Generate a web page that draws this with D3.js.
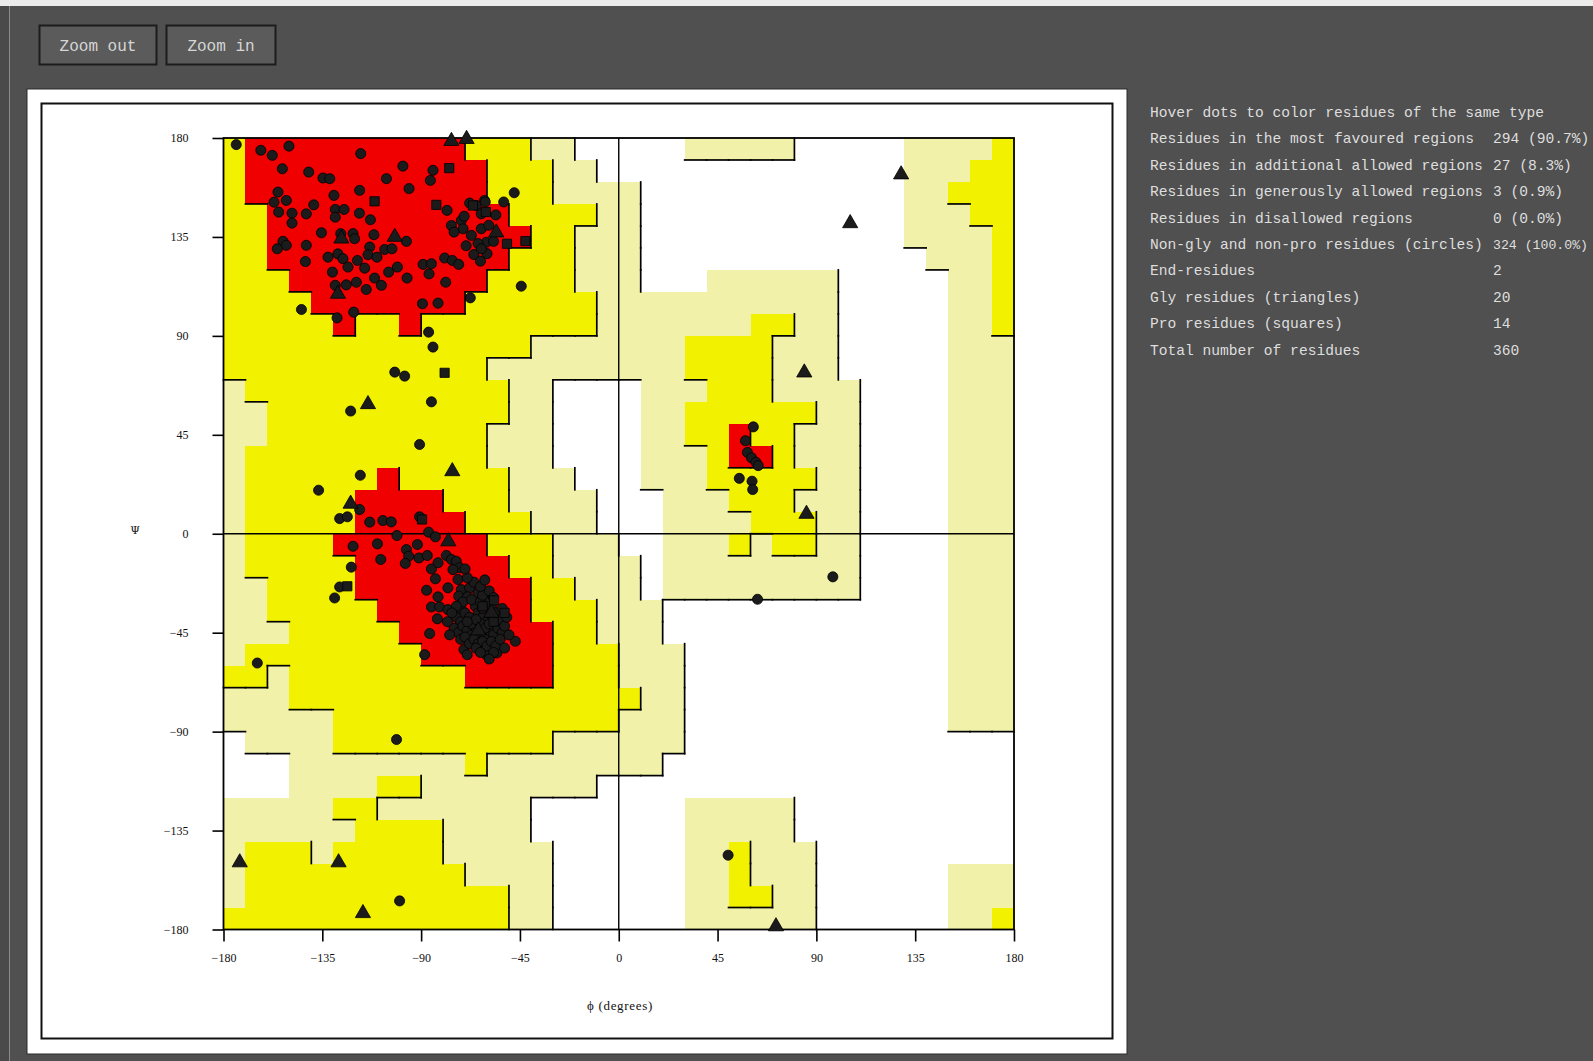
<!DOCTYPE html>
<html>
<head>
<meta charset="utf-8">
<script src="https://cdn.jsdelivr.net/npm/d3@7"></script>
<style>
  html, body { margin: 0; padding: 0; background: #505050; overflow: hidden; }
  svg { display: block; }
</style>
</head>
<body>
<svg id="page" width="1593" height="1061"></svg>
<script>
// Ramachandran region map on a 10-degree grid. One run-length string per phi column
// (phi -180 .. 170), read from psi = 180 downwards. Levels: 0 disallowed,
// 1 generously allowed, 2 additionally allowed, 3 most favoured.
const regionColumns = [
  "2x11 1x13 2x1 1x2 0x3 1x5 2x1",
  "3x3 2x9 1x2 2x6 1x3 2x2 1x3 0x2 1x2 2x4",
  "3x6 2x16 1x1 2x1 1x4 0x2 1x2 2x4",
  "3x7 2x19 1x6 2x4",
  "3x8 2x18 1x7 2x3",
  "3x9 2x9 3x1 2x9 1x2 2x1 1x1 2x4",
  "3x8 2x8 3x5 2x7 1x2 2x6",
  "3x8 2x7 3x7 2x6 1x1 2x1 1x1 2x5",
  "3x9 2x7 3x7 2x5 1x1 2x1 1x1 2x5",
  "3x8 2x8 3x8 2x4 1x3 2x5",
  "3x8 2x9 3x7 2x4 1x5 2x3",
  "2x1 3x6 2x11 3x7 2x4 1x5 2x2",
  "2x3 3x3 2x4 1x1 2x2 1x2 2x4 3x6 2x3 1x6 2x2",
  "2x4 3x1 2x5 1x7 2x3 3x5 2x3 1x8",
  "1x1 2x8 1x9 2x4 3x3 2x3 1x2 0x2 1x4",
  "1x3 2x6 1x2 0x4 1x5 2x7 1x3 0x6",
  "0x1 1x2 2x1 1x3 2x2 1x2 0x5 1x5 2x6 1x3 0x6",
  "0x2 1x9 0x7 1x5 2x4 1x2 0x7",
  "0x2 1x9 0x8 1x6 2x1 1x3 0x7",
  "0x7 1x9 0x5 1x8 0x7",
  "0x7 1x14 0x2 1x5 0x8",
  "1x1 0x6 1x2 2x2 1x1 2x2 1x7 0x9 1x6",
  "1x1 0x5 1x3 2x7 1x5 0x9 1x6",
  "1x1 0x5 1x3 2x4 3x2 2x2 1x1 2x1 1x2 0x9 1x2 2x3 1x1",
  "1x1 0x5 1x2 2x6 3x1 2x3 1x3 0x9 1x4 2x1 1x1",
  "1x1 0x5 1x2 2x1 1x3 2x7 1x2 0x9 1x6",
  "0x6 1x6 2x1 1x2 2x1 1x1 2x2 1x2 0x11 1x4",
  "0x6 1x15 0x15",
  "0x11 1x10 0x15",
  "0x36",
  "0x36",
  "1x5 0x31",
  "1x6 0x30",
  "1x2 2x1 1x24 0x6 1x3",
  "1x1 2x3 1x23 0x6 1x3",
  "2x9 1x18 0x6 1x2 2x1"
];
const regionColors = ["#ffffff", "#f1f1a9", "#f2f200", "#f00000"];

const phiTicks = [-180, -135, -90, -45, 0, 45, 90, 135, 180];
const psiTicks = [-180, -135, -90, -45, 0, 45, 90, 135, 180];

// Residues: [phi, psi]
const generalResidues = [
  [-174.2,177],[-163,174.4],[-157.8,172.1],[-150.2,176.3],[-153.2,166],[-141.2,164.5],[-134.7,161.8],[-131.6,161.5],
  [-117.5,172.9],[-105.8,161.5],[-98.3,167.2],[-95.5,157],[-84.6,165.3],[-85.8,160.7],[-129.7,153.9],[-118,156.2],
  [-155.2,155.4],[-157,150.8],[-151.4,151.6],[-154.9,146.3],[-148.8,145.8],[-142.3,145.5],[-148.8,141.3],[-138.9,149.6],
  [-129.1,147.5],[-125.1,147.5],[-129.1,144],[-118.1,145.8],[-113.1,142.8],[-78.2,147.1],[-67.9,150.4],[-61.1,151.6],
  [-76.2,140.2],[-71.7,142.5],[-70.9,138.7],[-75,137.2],[-67.1,135.7],[-62.6,138.7],[-60.3,132.6],[-135.4,136.9],
  [-126.6,136.5],[-121,136.5],[-120.3,134.2],[-111.5,136],[-96.7,133],[-152.9,133],[-151.4,131.2],[-155.5,129.6],
  [-142.3,131.2],[-132.4,125.8],[-127.9,127.3],[-125.6,125.1],[-123.3,121.3],[-119,124.3],[-115.7,120.8],[-113.4,130.4],
  [-114.2,126.9],[-110.1,125.8],[-106.6,129.3],[-103.3,129.6],[-100.8,121.3],[-104.8,119],[-111.2,116.3],[-108.1,113],
  [-96.4,116.3],[-130.4,119],[-129.1,113],[-124.1,113.2],[-119.5,114.4],[-115,111.1],[-142.7,123.8],[-89.1,122.5],
  [-85.3,122.8],[-79.3,125.4],[-75.8,124.3],[-72.9,122.5],[-86.4,118.2],[-78.8,114.4],[-89.4,104.6],[-82.3,104.9],
  [-67.6,107.3],[-144.5,102],[-128.3,98.2],[-120.7,100.8],[-86.6,91.7],[-84.6,84.9],[-102,73.5],[-97.5,71.7],[-85.3,60],
  [-47.6,155.1],[-52.4,150.9],[-60.8,150.9],[-59.2,140.3],[-60,127.4],[-44.4,112.6],[-64.9,149.3],[-70.4,144.4],
  [-62.6,145.5],[-64.1,132],[-69.5,131],[-62.6,129.6],[-66,127],[-56,145],[-57,133],[-63,124],
  [-122.1,55.8],[-90.7,40.6],[-117.7,26.6],[-136.7,19.8],[-118,11],[-127.1,6.9],[-123.6,7.7],[-113.4,5.3],
  [-107.4,6],[-103.6,5.4],[-90.7,7.7],[-101,-0.8],[-86.6,0.7],[-83.5,-1.4],[-121,-5.7],[-109.9,-4.6],[-108.4,-11.7],
  [-96.7,-7.2],[-91.7,-4.9],[-95.7,-10.2],[-91,-11],[-87.2,-9.9],[-97.2,-13.5],[-121.8,-15.2],[-85.3,-16],[-82.3,-13.2],
  [-78.5,-9.9],[-76.2,-11.7],[-74,-12.5],[-72.4,-15.5],[-75.5,-16.3],[-73.2,-20.8],[-83.5,-20.5],[-127.1,-24.2],
  [-129.4,-29.2],[-87.5,-25.7],[-77.8,-24.6],[-71.7,-25.4],[-67.9,-24.6],[-64.1,-26.9],[-82.3,-28.7],[-85.3,-33.3],
  [-81.6,-33.3],[-77.8,-34.5],[-72.9,-28.4],[-68.9,-28.7],[-71.7,-34.5],[-65.3,-33],[-82.6,-38.7],[-86.1,-45.4],
  [-70.5,-52.7],[-88.4,-55],[-60.3,-55],[-164.6,-58.8],[-60.8,-29.9],[-47.1,-48.9],[-59.2,-54.2],[-55.5,-54.2],
  [-74,-38],[-72,-40],[-70,-36],[-68,-38],[-66,-40],[-64,-36],[-62,-38],[-60,-40],[-58,-37],[-56,-41],
  [-75,-43],[-73,-45],[-71,-42],[-69,-44],[-67,-46],[-65,-43],[-63,-45],[-61,-47],[-59,-44],[-57,-46],
  [-55,-43],[-53,-45],[-72,-48],[-70,-47],[-68,-50],[-66,-48],[-64,-50],[-62,-49],[-60,-51],[-58,-49],
  [-56,-51],[-54,-48],[-67,-41],[-63,-41],[-61,-43],[-59,-41],[-65,-39],[-69,-40],[-62,-34],[-58,-33],
  [-60,-31],[-56,-36],[-54,-39],[-52,-42],[-50,-46],[-65,-52],[-63,-54],[-57,-54],[-59,-57],
  [-69,-55],[-71,-31],[-67,-30],[-63,-31],[-74,-33],[-76,-36],[-78,-40],[-77,-46],[-62,-28],[-59,-26],
  [-66,-22],[-63,-24],[-69,-20],[-70,-16],[-61,-21],[-57,-29],[-53,-34],[-51,-38],[-52,-52],
  [-101.2,-93.6],[-99.8,-167],[49.8,-146.2],[63.2,-29.8],[97.5,-19.6],[61.3,48.6],[57.7,42.3],[58.6,37],
  [60.5,34.5],[62.5,32.5],[63.5,31],[54.9,25.2],[60.7,23.9],[61,20.1]
];
const glyResidues = [
  [-76.2,178.6],[-69.3,179.5],[-126.3,134.2],[-102,135],[-55.8,137],[-127.9,109.1],[-114.2,58.9],[-75.8,28.4],
  [-122.1,13.6],[-77.6,-3.5],[128.6,163.4],[105.4,141.2],[84.5,73.3],[85.5,9.0],[-172.6,-149.5],[-127.6,-149.5],
  [-116.5,-172.6],[71.6,-178.6],[-64,-44],[-58,-36]
];
const proResidues = [
  [-77.2,166.3],[-111.2,151.2],[-83.1,149.6],[-79.3,73.2],[-50.9,131.9],[-42.5,133.1],[-89.6,6.5],[-123.6,-23.9],
  [-56.8,-30.3],[-66.4,149.3],[-60.5,146.3],[-62,-33],[-57,-40],[-52,-36]
];

const statLabels = [
  "Hover dots to color residues of the same type",
  "Residues in the most favoured regions",
  "Residues in additional allowed regions",
  "Residues in generously allowed regions",
  "Residues in disallowed regions",
  "Non-gly and non-pro residues (circles)",
  "End-residues",
  "Gly residues (triangles)",
  "Pro residues (squares)",
  "Total number of residues"
];
const statValues = ["", "294 (90.7%)", "27 (8.3%)", "3 (0.9%)", "0 (0.0%)", "324 (100.0%)", "2", "20", "14", "360"];
const buttonLabels = ["Zoom out", "Zoom in"];

// ---------------------------------------------------------------------------
function decodeRuns(s) {
  const out = [];
  s.split(" ").forEach(tok => {
    const [lv, n] = tok.split("x").map(Number);
    for (let k = 0; k < n; k++) out.push(lv);
  });
  return out;
}
const grid = regionColumns.map(decodeRuns); // grid[i][j]

const svg = d3.select("#page");

// page chrome
svg.append("rect").attr("x", 0).attr("y", 0).attr("width", 1593).attr("height", 1061).attr("fill", "#505050");
svg.append("rect").attr("x", 0).attr("y", 0).attr("width", 1593).attr("height", 6).attr("fill", "#ececec");
svg.append("rect").attr("x", 0).attr("y", 6).attr("width", 9).attr("height", 1055).attr("fill", "#4a4a4a");
svg.append("line").attr("x1", 9.5).attr("x2", 9.5).attr("y1", 6).attr("y2", 1061).attr("stroke", "#8a8a8a").attr("stroke-width", 1);

// buttons
const btnX = [39.5, 166.5], btnW = [117, 109];
buttonLabels.forEach((t, k) => {
  svg.append("rect").attr("x", btnX[k]).attr("y", 25.5).attr("width", btnW[k]).attr("height", 39)
    .attr("fill", "#5b5b5b").attr("stroke", "#1c1c1c").attr("stroke-width", 2);
  svg.append("text").attr("x", btnX[k] + btnW[k] / 2).attr("y", 51).attr("text-anchor", "middle")
    .attr("font-family", "Liberation Mono, monospace").attr("font-size", 16).attr("fill", "#d6d6d6").text(t);
});

// white plot panel
svg.append("rect").attr("x", 27).attr("y", 89).attr("width", 1100).attr("height", 965)
  .attr("fill", "#ffffff").attr("stroke", "#2a2a2a").attr("stroke-width", 1);
svg.append("rect").attr("x", 41.5).attr("y", 103.5).attr("width", 1071).attr("height", 935)
  .attr("fill", "none").attr("stroke", "#111").attr("stroke-width", 2);

// scales
const x = d3.scaleLinear().domain([-180, 180]).range([223.5, 1014]);
const y = d3.scaleLinear().domain([180, -180]).range([138, 929.5]);

const plot = svg.append("g");

// region cells
const cells = [];
grid.forEach((col, i) => col.forEach((lv, j) => cells.push({ i, j, lv })));
plot.append("g").selectAll("rect").data(cells).join("rect")
  .attr("x", d => x(-180 + 10 * d.i))
  .attr("y", d => y(180 - 10 * d.j))
  .attr("width", d => x(-170 + 10 * d.i) - x(-180 + 10 * d.i) + 0.5)
  .attr("height", d => y(170 - 10 * d.j) - y(180 - 10 * d.j) + 0.5)
  .attr("fill", d => regionColors[d.lv])
  .attr("shape-rendering", "crispEdges");

// boundary lines: right / bottom edge of a cell that is higher than its neighbour
const edges = [];
for (let i = 0; i < 36; i++) {
  for (let j = 0; j < 36; j++) {
    const lv = grid[i][j];
    if (i < 35 && lv > grid[i + 1][j]) {
      const phi = -170 + 10 * i;
      edges.push({ x1: x(phi), x2: x(phi), y1: y(180 - 10 * j), y2: y(170 - 10 * j) });
    }
    if (j < 35 && lv > grid[i][j + 1]) {
      const psi = 170 - 10 * j;
      edges.push({ x1: x(-180 + 10 * i), x2: x(-170 + 10 * i), y1: y(psi), y2: y(psi) });
    }
  }
}
plot.append("g").selectAll("line").data(edges).join("line")
  .attr("x1", d => d.x1).attr("x2", d => d.x2).attr("y1", d => d.y1).attr("y2", d => d.y2)
  .attr("stroke", "#000").attr("stroke-width", 1.7).attr("stroke-linecap", "square");

// frame and zero lines
plot.append("rect").attr("x", x(-180)).attr("y", y(180)).attr("width", x(180) - x(-180)).attr("height", y(-180) - y(180))
  .attr("fill", "none").attr("stroke", "#000").attr("stroke-width", 1.8);
plot.append("line").attr("x1", x(0)).attr("x2", x(0)).attr("y1", y(180)).attr("y2", y(-180))
  .attr("stroke", "#000").attr("stroke-width", 1.4);
plot.append("line").attr("x1", x(-180)).attr("x2", x(180)).attr("y1", y(0)).attr("y2", y(0))
  .attr("stroke", "#000").attr("stroke-width", 1.4);

// axes
const xAxis = d3.axisBottom(x).tickValues(phiTicks).tickSize(12).tickSizeOuter(0).tickPadding(12)
  .tickFormat(d => d < 0 ? "\u2212" + Math.abs(d) : String(d));
const gx = svg.append("g").attr("transform", `translate(0,${y(-180)})`).call(xAxis);
const yAxis = d3.axisLeft(y).tickValues(psiTicks).tickSize(11).tickSizeOuter(0).tickPadding(24)
  .tickFormat(d => d < 0 ? "\u2212" + Math.abs(d) : String(d));
const gy = svg.append("g").attr("transform", `translate(${x(-180)},0)`).call(yAxis);
[gx, gy].forEach(g => {
  g.select(".domain").remove();
  g.selectAll(".tick line").attr("stroke", "#000").attr("stroke-width", 1.6);
  g.selectAll(".tick text").attr("font-family", "Liberation Serif, serif").attr("font-size", 12).attr("fill", "#111");
});

svg.append("text").attr("x", 135).attr("y", 534).attr("text-anchor", "middle")
  .attr("font-family", "DejaVu Serif, serif").attr("font-size", 11).attr("fill", "#111").text("\u03A8");
svg.append("text").attr("x", 620).attr("y", 1010).attr("text-anchor", "middle")
  .attr("font-family", "Liberation Serif, serif").attr("font-size", 13).attr("letter-spacing", 0.7)
  .attr("fill", "#111").text("\u03D5 (degrees)");

// residues
const markers = plot.append("g");
const mk = (data, type, sym, size) => {
  markers.append("g").selectAll("path").data(data).join("path")
    .attr("class", "res " + type)
    .attr("d", d3.symbol().type(sym).size(size))
    .attr("transform", d => `translate(${x(d[0])},${y(d[1])})`)
    .attr("fill", "#1b1b1b").attr("stroke", "#000").attr("stroke-width", 0.8)
    .on("mouseover", () => markers.selectAll("." + type).attr("fill", "#1f5fd0"))
    .on("mouseout", () => markers.selectAll("." + type).attr("fill", "#1b1b1b"));
};
mk(generalResidues, "gen", d3.symbolCircle, 80);
mk(proResidues, "pro", d3.symbolSquare, 85);
mk(glyResidues, "gly", d3.symbolTriangle, 100);

// statistics panel
const stats = svg.append("g").attr("font-family", "Liberation Mono, monospace").attr("font-size", 14.6).attr("fill", "#dedede");
statLabels.forEach((t, k) => {
  const by = 117 + k * 26.4;
  stats.append("text").attr("x", 1150).attr("y", by).text(t);
  if (statValues[k]) {
    const v = stats.append("text").attr("x", 1493).attr("y", by).text(statValues[k]);
    // the longest value is set a little smaller so it stays inside the page width
    if (statValues[k].length > 11) v.attr("font-size", 13.2);
  }
});
</script>
</body>
</html>
